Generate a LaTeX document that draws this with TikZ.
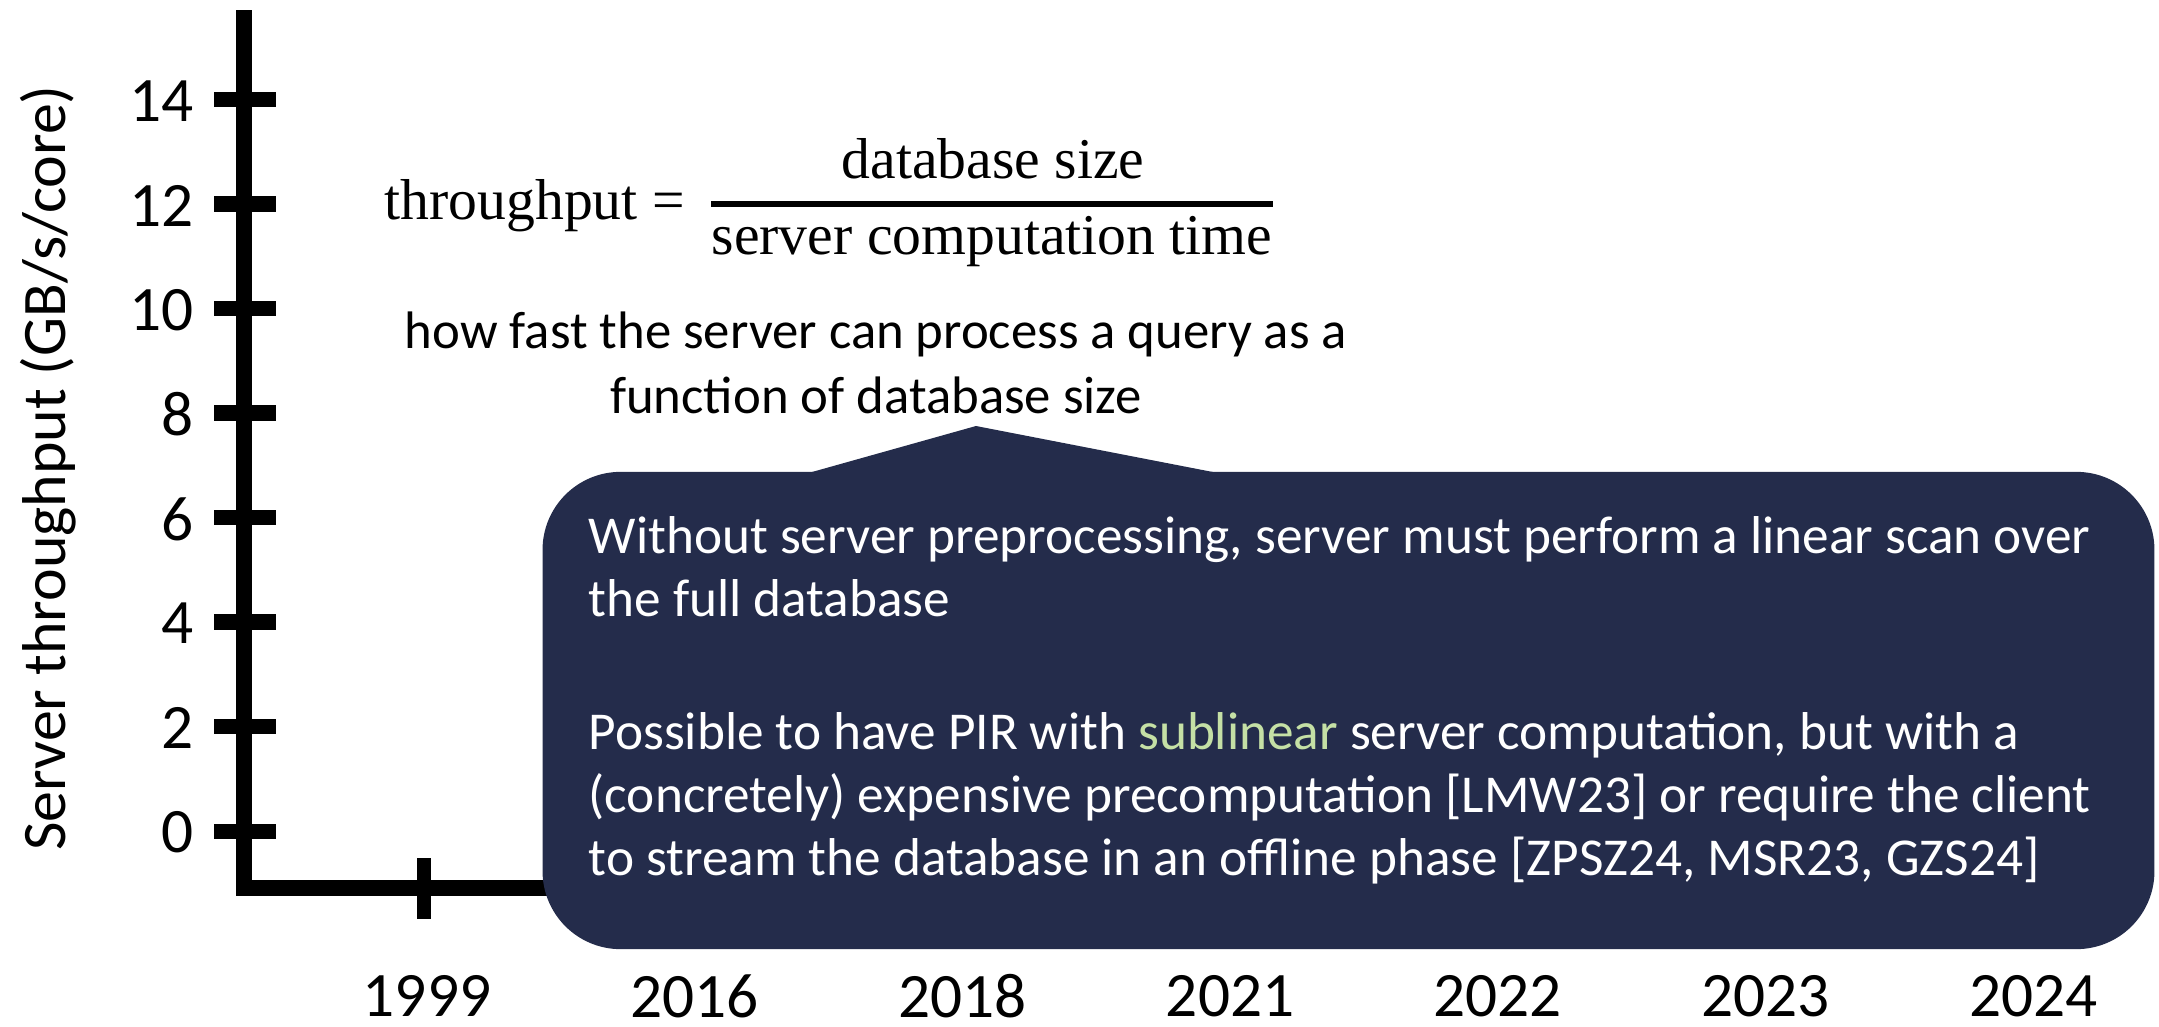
\documentclass[tikz,border=0pt]{standalone}
\usepackage{fontspec}
\setmainfont{Carlito}
\newfontfamily\eqfont{Liberation Serif}
\definecolor{navy}{HTML}{242C4B}
\definecolor{leaf}{HTML}{C5E0A5}

\tikzset{
  axisline/.style={line width=0.155cm, line join=miter},
  tickmark/.style={line width=0.15cm},
  ticklabel/.style={inner sep=0pt, font=\fontsize{18pt}{21pt}\selectfont},
  yearlabel/.style={inner sep=0pt, font=\fontsize{18pt}{21pt}\selectfont},
  eqtext/.style={inner sep=0pt, font=\eqfont\fontsize{16.4pt}{19pt}\selectfont},
  plaintext/.style={inner sep=0pt, font=\fontsize{15pt}{18pt}\selectfont},
  notetext/.style={inner sep=0pt, anchor=base west, text=white, font=\fontsize{15.15pt}{18pt}\selectfont},
}

\begin{document}
\begin{tikzpicture}[x=0.01cm, y=-0.01cm]
\useasboundingbox (0,0) rectangle (2159,1027);

% axes
\coordinate (ytop) at (244,10);
\coordinate (origin) at (244,888);
\coordinate (xend) at (700,888);
\draw[axisline] (ytop) -- (origin) -- (xend);

% y ticks and labels
\foreach \k in {0,...,7} {
  \pgfmathsetmacro{\yy}{831-104.5*\k}
  \pgfmathtruncatemacro{\val}{2*\k}
  \coordinate (tl\k) at (214,\yy);
  \coordinate (tr\k) at (276,\yy);
  \draw[tickmark] (tl\k) -- (tr\k);
  \node[ticklabel, anchor=east] (yl\k) at (194,\yy+1.5) {\val};
}

% y axis title
\node[inner sep=0pt, rotate=90, font=\fontsize{17.6pt}{21pt}\selectfont] (ytitle) at (48,468) {Server throughput (GB/s/core)};

% x tick
\coordinate (xt1) at (424,858);
\coordinate (xt2) at (424,919);
\draw[line width=0.14cm] (xt1) -- (xt2);

% year labels
\foreach \yr [count=\i from 0] in {1999,2016,2018,2021,2022,2023,2024} {
  \node[yearlabel] (yr\i) at (427+267.7*\i,996) {\yr};
}

% throughput formula
\node[eqtext, anchor=base west] (thr) at (384,219) {throughput =};
\node[eqtext, anchor=base] (num) at (993,179) {database size};
\node[eqtext, anchor=base] (den) at (992,254) {server computation time};
\coordinate (barl) at (711,204);
\coordinate (barr) at (1273,204);
\draw[line width=0.05cm] (barl) -- (barr);

% caption under the formula
\node[plaintext, anchor=base] (cap1) at (876,348) {how fast the server can process a query as a};
\node[plaintext, anchor=base] (cap2) at (876,413) {function of database size};

% callout
\node[fill=navy, rounded corners=0.78cm, minimum width=16.11cm, minimum height=4.77cm, inner sep=0pt] (note) at (1348.5,710.5) {};
\coordinate (ptip) at (976,426);
\fill[navy] (783.5,480) -- (ptip) -- (1254,480) -- cycle;

\node[notetext] (n1) at (588,553) {Without server preprocessing, server must perform a linear scan over};
\node[notetext] (n2) at (588,616) {the full database};
\node[notetext] (n3) at (588,749) {Possible to have PIR with \textcolor{leaf}{sublinear} server computation, but with a};
\node[notetext] (n4) at (588,812) {(concretely) expensive precomputation [LMW23] or require the client};
\node[notetext] (n5) at (588,875) {to stream the database in an offline phase [ZPSZ24, MSR23, GZS24]};
\end{tikzpicture}
\end{document}
